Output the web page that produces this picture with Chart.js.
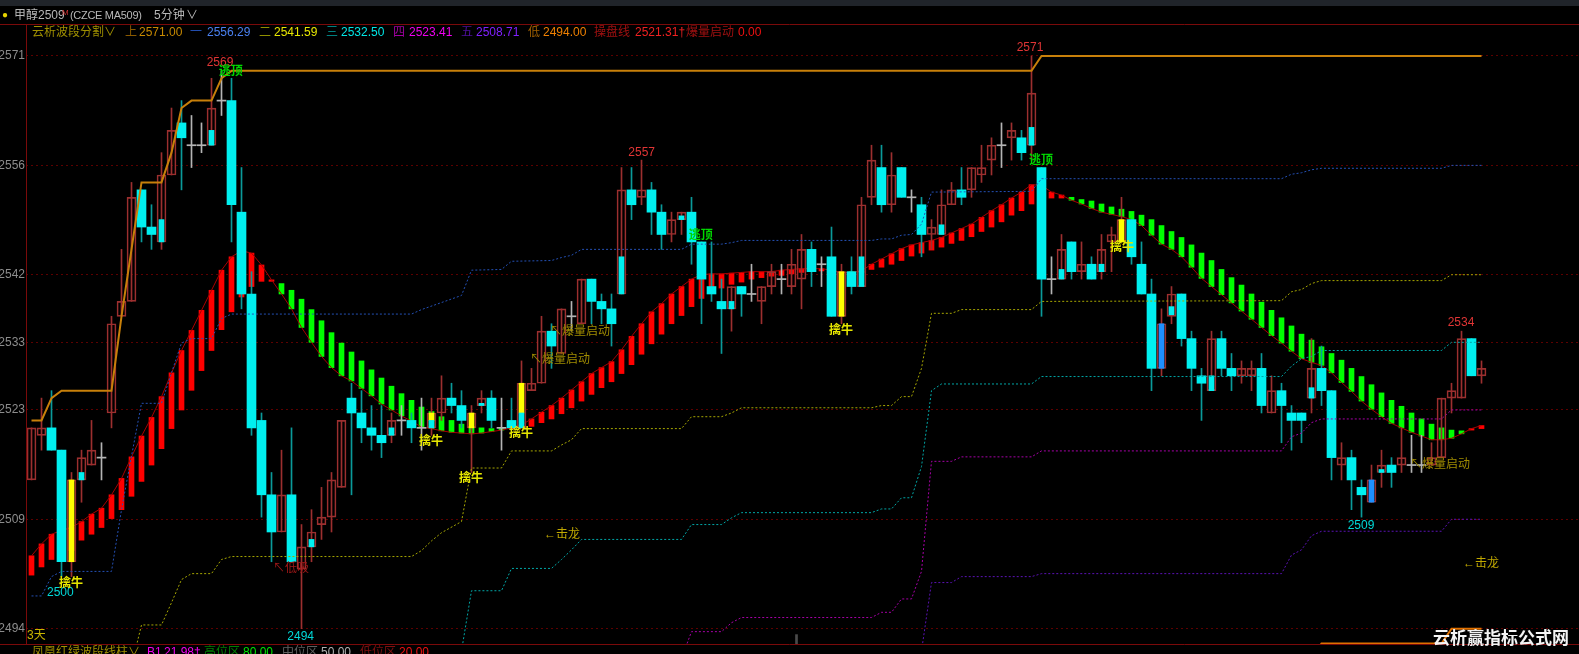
<!DOCTYPE html>
<html>
<head>
<meta charset="utf-8">
<script src="https://cdn.jsdelivr.net/npm/chart.js@4"></script>
<style>
html,body{margin:0;padding:0;background:#000;width:1579px;height:654px;overflow:hidden;}
#kline{position:absolute;left:0;top:0;}
#kWrap span{position:absolute;white-space:pre;line-height:14px;}
</style>
</head>
<body>
<div id="kWrap" style="position:relative;width:1579px;height:654px;font:12px 'Liberation Sans','Noto Sans CJK SC',sans-serif;overflow:hidden;">
<canvas id="kline" width="1579" height="654"></canvas>
</div>
<script>
// tick levels on the price axis
const tickValues = [2494,2508.71,2523.41,2532.5,2541.59,2556.29,2571];
const tickLabels = ["2494","2509","2523","2533","2542","2556","2571"];

// 5 minute candles
const opens = [
2514,2520,2521,2518,2503,2514,2516,2517,2523,2536,
2538,2553,2548,2546,2555,2562,2559,2559,2559,2565,
2565,2550,2539,2522,2512,2507,2512,2502,2505,2508,
2509,2513,2525,2523,2521,2520,2520,2522,2522,2521,
2521,2523,2525,2524,2521,2524,2525,2521,2522,2521,
2526,2527,2534,2531,2536,2535,2541,2538,2537,2539,
2553,2552,2553,2550,2547,2549,2550,2546,2540,2538,
2537,2540,2539,2538,2540,2541,2540,2541,2545,2543,
2544,2536,2542,2540,2552,2556,2551,2556,2552,2551,
2547,2547,2551,2553,2553,2555,2557,2559,2560,2560,
2559,2556,2541,2541,2546,2542,2543,2542,2546,2546,
2549,2543,2539,2529,2536,2539,2533,2528,2526,2533,
2529,2528,2528,2529,2523,2526,2523,2523,2525,2529,
2526,2516,2517,2513,2511,2515,2516,2516,2516,2516,
2516,2517,2525,2525,2533,2528];
const closes = [
2521,2521,2518,2503,2514,2517,2518,2517,2535,2538,
2552,2548,2547,2555,2561,2560,2559,2559,2564,2565,
2551,2539,2521,2512,2507,2512,2503,2505,2507,2509,
2514,2522,2523,2521,2520,2519,2522,2522,2521,2521,
2523,2525,2524,2522,2523,2525,2522,2521,2521,2527,
2527,2534,2532,2537,2536,2541,2538,2537,2535,2553,
2551,2553,2550,2547,2549,2550,2546,2541,2539,2537,
2540,2539,2539,2540,2542,2541,2543,2545,2542,2543,
2536,2542,2540,2551,2557,2551,2555,2552,2552,2547,
2548,2551,2553,2552,2556,2556,2559,2559,2561,2558,
2566,2541,2541,2545,2542,2543,2541,2545,2547,2549,
2544,2539,2529,2535,2539,2533,2529,2527,2533,2529,
2528,2529,2529,2524,2526,2524,2522,2522,2529,2526,
2517,2517,2514,2512,2514,2516,2515,2517,2516,2516,
2517,2525,2526,2533,2528,2529];
const highs = [
2521,2525,2526,2518,2515,2518,2522,2519,2536,2545,
2554,2553,2551,2558,2564,2565,2563,2562,2568,2569,
2568,2556,2542,2523,2515,2518,2521,2508,2510,2513,
2515,2522,2527,2526,2524,2524,2523,2524,2523,2525,
2525,2528,2527,2526,2524,2526,2526,2525,2525,2530,
2529,2536,2535,2537,2538,2541,2541,2539,2539,2556,
2556,2557,2554,2551,2550,2550,2552,2546,2546,2541,
2540,2540,2543,2540,2543,2543,2545,2547,2546,2544,
2548,2543,2544,2552,2559,2559,2558,2556,2553,2552,
2549,2553,2554,2556,2556,2559,2560,2562,2562,2561,
2571,2556,2544,2547,2546,2546,2544,2547,2548,2552,
2549,2546,2541,2537,2540,2539,2534,2529,2534,2534,
2531,2530,2530,2531,2528,2527,2524,2523,2533,2532,
2526,2519,2518,2514,2516,2518,2517,2521,2520,2520,
2519,2525,2527,2534,2533,2530];
const lows = [
2514,2518,2518,2501,2501,2511,2516,2514,2521,2536,
2538,2546,2545,2545,2555,2553,2556,2558,2559,2563,
2546,2537,2520,2509,2503,2507,2503,2494,2503,2506,
2507,2513,2512,2519,2518,2517,2519,2520,2519,2518,
2520,2522,2523,2521,2515,2523,2521,2518,2521,2521,
2526,2527,2529,2531,2534,2535,2535,2535,2532,2539,
2549,2551,2547,2545,2546,2547,2543,2535,2538,2531,
2534,2536,2538,2535,2539,2539,2539,2537,2540,2540,
2536,2535,2539,2540,2551,2550,2550,2552,2550,2544,
2545,2547,2551,2551,2552,2554,2555,2556,2557,2557,
2557,2536,2539,2541,2541,2541,2541,2541,2542,2546,
2543,2539,2526,2528,2535,2532,2526,2522,2526,2528,
2526,2527,2526,2523,2523,2519,2518,2519,2523,2524,
2514,2514,2510,2509,2511,2513,2513,2515,2515,2515,
2516,2517,2523,2525,2528,2527];

// coloured fill inside some candle bodies
const cyanX = [5,13,18,28,36,40,45,49,59,65,70,83,91,100,103,107,114,118,128,135];
const cyanTop = [2515,2549,2561,2506,2521,2522,2524.3,2523,2544,2549.5,2538,2544,2548.3,2561.4,2542.3,2543,2537.3,2528,2526.4,2515.4];
const cyanBot = [2514,2546,2559,2505,2520,2521,2524,2521,2539,2549,2537,2540,2547,2559,2541,2542,2536.2,2526,2525,2515];
const yellowX = [4,40,44,49,81,109];
const yellowTop = [2514,2523,2523,2527,2542,2549];
const yellowBot = [2503,2522,2521,2523,2536,2546];
const blueX = [113,134];
const blueTop = [2535,2514];
const blueBot = [2529,2511];

// 操盘线 value, and the far end of the wave bar hanging off it
const waveLine = [
2503.8,2505.4,2506.7,2507.2,2507.6,2508.4,2509.4,2510.2,2512,2514.2,
2517.1,2519.9,2522.4,2525.2,2528.4,2531.4,2534.1,2536.8,2539.5,2542.2,
2544,2544.8,2544.5,2542.9,2540.9,2539,2537,2534.5,2532.5,2530.6,
2529.1,2528,2527.3,2526.3,2525.3,2524.2,2523.4,2522.6,2521.9,2521.1,
2520.9,2520.6,2520.4,2520.3,2520.2,2520.3,2520.5,2520.7,2521,2521.4,
2522.2,2523.1,2524,2525,2526.1,2527.2,2528.3,2529.1,2529.9,2531.5,
2533.3,2535,2536.6,2537.7,2539,2540,2541,2541.6,2541.7,2541.7,
2541.8,2541.9,2542,2542,2542,2542.2,2542.3,2542.4,2542.4,2542.4,
2542.2,2541.9,2541.9,2542.1,2543,2543.7,2544.4,2545.1,2545.6,2545.9,
2546.2,2546.6,2547.2,2547.8,2548.4,2549.3,2550.2,2551,2551.9,2552.7,
2553.7,2553.6,2552.7,2552.3,2551.6,2551.1,2550.5,2550,2549.7,2549.4,
2549,2548.2,2546.9,2545.7,2545,2544,2542.6,2541.1,2540,2538.9,
2537.8,2536.7,2535.6,2534.5,2533.4,2532.4,2531.3,2530.3,2529.8,2529.4,
2528.4,2527.1,2525.9,2524.6,2523.5,2522.5,2521.6,2521,2520.4,2519.9,
2519.4,2519.4,2519.6,2520.2,2520.9,2521.31];
const waveEnd = [
2501.2,2502.3,2503.3,2504,2504.5,2505.9,2506.7,2507.6,2508.8,2510,
2511.8,2513.8,2516,2518.2,2520.9,2523.4,2526.05,2528.7,2531.4,2534.2,
2536.6,2538.6,2540,2540.7,2540.7,2540.4,2539.5,2538.3,2536.9,2535.4,
2533.8,2532.4,2531.2,2530,2528.8,2527.7,2526.6,2525.6,2524.7,2523.8,
2523.2,2522.5,2522,2521.5,2521.2,2521,2520.9,2520.9,2520.9,2521,
2521.2,2521.7,2522.2,2522.9,2523.7,2524.6,2525.5,2526.4,2527.2,2528.3,
2529.5,2530.9,2532.3,2533.6,2535,2536.1,2537.3,2538.4,2539.9,2539.8,
2540.3,2540.6,2541,2541.2,2541.4,2541.5,2541.7,2541.9,2542.1,2542.1,
2542,2541.8,2542,2541.9,2542.3,2542.6,2543,2543.5,2544.1,2544.5,
2544.9,2545.3,2545.8,2546.2,2546.7,2547.4,2548,2548.7,2549.6,2550.2,
2551.1,2552.9,2551.9,2551.9,2552,2551.7,2551.5,2551.1,2550.7,2550.4,
2550.1,2549.6,2549,2548.2,2547.4,2546.6,2545.6,2544.5,2543.5,2542.3,
2541.2,2540.2,2539,2537.9,2536.8,2535.8,2534.7,2533.6,2532.8,2531.9,
2531,2530.1,2529,2527.9,2526.8,2525.7,2524.7,2523.9,2523,2522.2,
2521.5,2521,2520.7,2520.6,2520.7,2520.9];

// 云析波段 levels, read as corner points (bar number, price)
const upperX = [0,1,2,3,8,9,10,11,13,14,15,16,18,19,20,100,101,145];
const upperY = [2522,2522,2525,2526,2526,2536,2545,2554,2554,2558,2564,2565,2565,2568,2569,2569,2571,2571];
const level1X = [0,1,2,3,8,9,10,11,13,14,15,16,18,19,20,38,39,43,44,47,48,52,53,54,55,65,66,69,70,71,84,85,86,87,88,89,90,100,101,124,125,126,127,128,129,141,142,145];
const level1Y = [2498.4,2498.4,2501,2501.7,2501.7,2510,2517.2,2524.3,2524.3,2528.4,2532.4,2533,2533,2535.7,2536.3,2536.3,2536.9,2538.8,2542.2,2542.3,2543.4,2543.5,2543.9,2544.2,2545,2545,2545.7,2545.7,2545.9,2546.2,2546.2,2546.4,2546.4,2546.9,2547,2548.4,2552.7,2552.8,2554.5,2554.5,2554.5,2555.1,2555.3,2555.7,2555.9,2555.9,2556.29,2556.29];
const level2X = [10,11,13,14,15,16,18,19,20,38,39,40,41,43,44,47,48,52,53,54,55,65,66,69,70,71,84,85,86,87,88,89,90,92,93,100,101,125,126,127,128,129,141,142,145];
const level2Y = [2489,2494.5,2494.5,2497.5,2500.6,2501.4,2501.4,2503.3,2503.7,2503.7,2504.5,2505.8,2506.9,2508.4,2515.6,2515.6,2517.9,2517.9,2518.7,2519.4,2520.9,2520.9,2522.5,2522.5,2523,2523.7,2523.7,2524,2524,2525.2,2525.2,2529,2536.4,2536.4,2536.9,2536.9,2538,2538.1,2539.3,2539.6,2540.4,2540.8,2540.8,2541.59,2541.59];
const level3X = [43,44,47,48,52,53,54,55,65,66,69,70,71,84,85,86,87,88,89,90,91,100,101,125,126,127,128,129,141,142,145];
const level3Y = [2491,2499.1,2499.1,2502.1,2502.1,2503.3,2504.6,2506,2506,2508,2508,2508.9,2509.6,2509.6,2510.1,2510.1,2511.6,2511.6,2515.8,2526,2526.9,2526.9,2527.9,2527.9,2529.3,2530.3,2530.6,2531.4,2531.4,2532.5,2532.5];
const level4X = [65,66,69,70,71,84,85,86,87,88,89,90,92,93,100,101,125,126,127,128,129,141,142,145];
const level4Y = [2490,2493.6,2493.6,2494.8,2495.5,2495.5,2496.2,2496.2,2498,2498,2501.7,2516.5,2516.5,2517.1,2517.1,2517.9,2517.9,2519.8,2520.3,2521.7,2522.2,2522.2,2523.41,2523.41];
const level5X = [89,90,92,93,100,101,125,126,127,128,129,141,142,145];
const level5Y = [2491,2500.2,2500.2,2501,2501,2501.4,2501.4,2503.9,2504.6,2506.5,2507.1,2507.1,2508.71,2508.71];
const lowerX = [128,129,141,142,145];
const lowerY = [2490,2492,2492,2494,2494];

// text marks on the chart: text, bar number, price
const peakLabels = [["2569",18.85,2570.06],["2571",99.85,2572.1],["2557",61.02,2558],["2534",142.95,2535.1]];
const troughLabels = [["2500",2.88,2498.9],["2494",26.92,2492.9],["2509",132.95,2507.9]];
const topMarks = [[19.92,2568.9],[66.92,2546.9],[100.95,2556.9]];
const bullMarks = [[3.95,2500.1],[39.95,2519.1],[43.95,2514.1],[48.95,2520.2],[80.95,2534],[109.05,2545.2]];
const volumeMarks = [[49.85,2530.1],[51.85,2533.9],[137.85,2516.1]];
const dragonMarks = [[51.25,2506.7],[143.15,2502.8]];
const lowMarks = [[24.15,2502]];

const RED_EDGE = "#9c2f2f";
const CYAN = "#00f0f0";
const xs = opens.map((v,i) => i);

function pts(x,y){
    return x.map((v,i) => ({x:v,y:y[i]}));
}
function spans(x,a,b){
    return x.map((v,i) => ({x:v,y:[a[i],b[i]]}));
}
function levelLine(x,y,color,order){
    return {type:"line",data:pts(x,y),borderColor:color,borderWidth:1,borderDash:[2,2],pointRadius:0,tension:0,order:order};
}
function fillBars(x,a,b,color){
    return {type:"bar",data:spans(x,a,b),backgroundColor:color,barThickness:5,grouped:false,order:3};
}

// frame, and all the text that sits on top of the marks
const framePlugin = {
    id:"frame",
    beforeDraw(c){
        const g = c.ctx;
        g.save();
        g.fillStyle = "#000";
        g.fillRect(0,0,c.width,c.height);
        g.fillStyle = "#20242a";
        g.fillRect(0,0,c.width,6);
        g.restore();
    },
    afterDatasetsDraw(c){
        const g = c.ctx, sx = c.scales.x, sy = c.scales.y;
        const a = c.chartArea;
        g.save();
        g.strokeStyle = "#7a0a0a";
        g.lineWidth = 1;
        g.beginPath();
        g.moveTo(0,24.5); g.lineTo(1579,24.5);
        g.moveTo(a.left+0.5,24); g.lineTo(a.left+0.5,644);
        g.moveTo(0,644.5); g.lineTo(1579,644.5);
        g.stroke();
        g.textBaseline = "middle";
        const put = (t,i,v,color,font,align) => {
            g.font = font;
            g.fillStyle = color;
            g.textAlign = align;
            g.fillText(t,sx.getPixelForValue(i),sy.getPixelForValue(v));
        };
        const small = '12px "Liberation Sans","Noto Sans CJK SC"';
        const bold = 'bold 12px "Liberation Sans","Noto Sans CJK SC"';
        peakLabels.forEach(p => put(p[0],p[1],p[2],"#e03535",small,"center"));
        troughLabels.forEach(p => put(p[0],p[1],p[2],"#00d8d8",small,"center"));
        topMarks.forEach(p => put("逃顶",p[0],p[1],"#00d800",bold,"center"));
        bullMarks.forEach(p => put("擒牛",p[0],p[1],"#e6e600",bold,"center"));
        volumeMarks.forEach(p => put("↖爆量启动",p[0],p[1],"#a08c00",small,"left"));
        dragonMarks.forEach(p => put("←击龙",p[0],p[1],"#c0a800",small,"left"));
        lowMarks.forEach(p => put("↖低吸",p[0],p[1],"#a01818",small,"left"));
        g.restore();
    }
};

new Chart(document.getElementById("kline"),{
    plugins:[framePlugin],
    data:{
        datasets:[
            // wave bars and 操盘线 sit under the candles
            {type:"bar",data:spans(xs,waveLine,waveEnd),
                backgroundColor:waveLine.map((v,i) => v>waveEnd[i] ? "#ff0000" : "#00ff00"),
                barThickness:5,grouped:false,order:7},
            {type:"line",data:pts(xs,waveLine),borderColor:"#a80000",borderWidth:1,pointRadius:0,tension:0,order:6},
            // wicks
            {type:"bar",data:spans(xs,lows,highs),
                backgroundColor:closes.map((v,i) => v>opens[i] ? RED_EDGE : v<opens[i] ? "#0a9a9a" : "#b4b4b4"),
                barThickness:1,grouped:false,order:5},
            // bodies, hollow when the close is higher
            {type:"bar",data:xs.map(i => {
                    if(opens[i]===closes[i]) return {x:i,y:[opens[i]-0.07,opens[i]+0.07]};
                    return {x:i,y:[opens[i],closes[i]]};
                }),
                backgroundColor:closes.map((v,i) => v>opens[i] ? "rgba(0,0,0,0)" : v<opens[i] ? CYAN : "#b4b4b4"),
                borderColor:closes.map((v,i) => v>opens[i] ? RED_EDGE : "rgba(0,0,0,0)"),
                borderWidth:closes.map((v,i) => v>opens[i] ? 1 : 0),
                borderSkipped:false,
                barThickness:9,grouped:false,order:4},
            fillBars(cyanX,cyanBot,cyanTop,CYAN),
            fillBars(yellowX,yellowBot,yellowTop,"#ffff00"),
            fillBars(blueX,blueBot,blueTop,"#1e90ff"),
            {type:"bar",data:[{x:76.5,y:[2491,2493.2]}],backgroundColor:"#4a4a4a",barThickness:2,grouped:false,order:3},
            levelLine(level1X,level1Y,"#2450b4",2),
            levelLine(level2X,level2Y,"#a6a600",2),
            levelLine(level3X,level3Y,"#00a6a6",2),
            levelLine(level4X,level4Y,"#a600a6",2),
            levelLine(level5X,level5Y,"#5a12b4",2),
            {type:"line",data:pts(lowerX,lowerY),borderColor:"#e07000",borderWidth:2,pointRadius:0,tension:0,order:1},
            {type:"line",data:pts(upperX,upperY),borderColor:"#c8800a",borderWidth:2,pointRadius:0,tension:0,order:1}
        ]
    },
    options:{
        responsive:false,
        animation:false,
        events:[],
        layout:{padding:{top:24,bottom:10,left:0,right:0}},
        plugins:{legend:{display:false},tooltip:{enabled:false}},
        scales:{
            x:{type:"linear",offset:false,min:-0.55,max:154.75,display:false},
            y:{
                type:"linear",
                min:2491.94,
                max:2575.3,
                afterFit(s){ s.width = 26; },
                afterBuildTicks(s){ s.ticks = tickValues.map(v => ({value:v})); },
                border:{display:false,dash:[2,3]},
                grid:{color:"#5c0000",drawTicks:false,lineWidth:1},
                ticks:{
                    autoSkip:false,
                    padding:1,
                    color:"#8c8c8c",
                    font:{family:"Liberation Sans",size:12},
                    callback:(v,i) => tickLabels[i]
                }
            }
        }
    }
});

// header rows and the rest of the fixed text
const wrap = document.getElementById("kWrap");
function tag(t,x,y,color,extra){
    const s = document.createElement("span");
    s.textContent = t;
    s.style.left = x+"px";
    s.style.top = y+"px";
    s.style.color = color;
    if(extra) s.style.cssText += extra;
    wrap.appendChild(s);
}
tag("●",2,8,"#e6d200","font-size:10px;");
tag("甲醇2509",14,8,"#b8b8b8");
tag("M",62,6,"#d03030","font-size:8px;");
tag("(CZCE MA509)",70,8,"#b8b8b8","font-size:11px;letter-spacing:-0.3px;");
tag("5分钟",154,8,"#b8b8b8");
tag("∨",186,8,"#b8b8b8");

const row1Text = ["云析波段分割∨","上","2571.00","一","2556.29","二","2541.59","三","2532.50","四","2523.41","五","2508.71","低","2494.00","操盘线","2521.31†","爆量启动","0.00"];
const row1Left = [32,125,139,190,207,259,274,326,341,393,409,461,476,528,543,594,635,686,738];
const row1Color = ["#a09000","#8a5a00","#c88a00","#2450b4","#4a80f0","#909000","#e6e600","#008080","#00e6e6","#a000a0","#f000f0","#5010a0","#8020ff","#a06000","#f08000","#a01010","#f02020","#a01010","#f01010"];
row1Text.forEach((t,i) => tag(t,row1Left[i],25,row1Color[i]));

const row2Text = ["凤凰红绿波段线柱∨","B1","21.98†","高位区","80.00","中位区","50.00","低位区","20.00"];
const row2Left = [32,147,164,204,243,282,321,360,399];
const row2Color = ["#a09000","#f000f0","#f000f0","#008000","#00e600","#606060","#b0b0b0","#801010","#f01010"];
row2Text.forEach((t,i) => tag(t,row2Left[i],645,row2Color[i]));

tag("3天",27,628,"#c8b400");
tag("云析赢指标公式网",1433,628,"#f4f4f4","font:bold 17px 'Noto Sans CJK SC';line-height:18px;");
</script>
</body>
</html>
